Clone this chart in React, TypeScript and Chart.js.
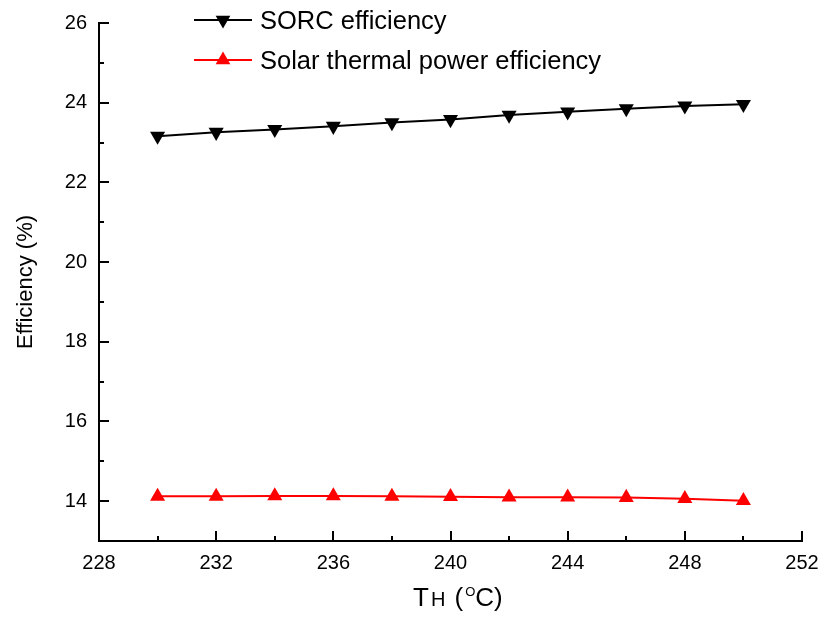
import React, { useEffect, useRef } from "react";
import { Chart, registerables } from "chart.js";

Chart.register(...registerables);

// ---- Data ----
const temperatures = [230, 232, 234, 236, 238, 240, 242, 244, 246, 248, 250];
const sorcEfficiency = [23.16, 23.26, 23.33, 23.41, 23.5, 23.58, 23.69, 23.77, 23.85, 23.92, 23.96];
const solarEfficiency = [14.12, 14.12, 14.13, 14.13, 14.12, 14.11, 14.1, 14.1, 14.09, 14.06, 14.01];
const seriesLabels = ["SORC efficiency", "Solar thermal power efficiency"];
const xTickValues = [228, 232, 236, 240, 244, 248, 252];
const xMinorValues = [230, 234, 238, 242, 246, 250];
const yTickValues = [14, 16, 18, 20, 22, 24, 26];
const yMinorValues = [13, 15, 17, 19, 21, 23, 25];
const yTitle = "Efficiency (%)";

const FONT = '"Liberation Sans", Arial, Helvetica, sans-serif';

function triangle(ctx: CanvasRenderingContext2D, x: number, y: number, r: number, rotDeg: number, color: string) {
  let rad = (rotDeg * Math.PI) / 180;
  const step = (2 * Math.PI) / 3;
  ctx.beginPath();
  ctx.moveTo(x + Math.sin(rad) * r, y - Math.cos(rad) * r);
  rad += step;
  ctx.lineTo(x + Math.sin(rad) * r, y - Math.cos(rad) * r);
  rad += step;
  ctx.lineTo(x + Math.sin(rad) * r, y - Math.cos(rad) * r);
  ctx.closePath();
  ctx.fillStyle = color;
  ctx.fill();
}

const decor = {
  id: "decor",
  afterDraw(chart: any) {
    const ctx: CanvasRenderingContext2D = chart.ctx;
    const xs = chart.scales.x;
    const ys = chart.scales.y;
    const a = chart.chartArea;
    ctx.save();
    ctx.strokeStyle = "#000";
    ctx.lineWidth = 2;
    const seg = (x1: number, y1: number, x2: number, y2: number) => {
      ctx.beginPath();
      ctx.moveTo(x1, y1);
      ctx.lineTo(x2, y2);
      ctx.stroke();
    };
    // inward ticks
    xTickValues.forEach((v) => {
      const p = Math.round(xs.getPixelForValue(v));
      seg(p, a.bottom, p, a.bottom - 10);
    });
    xMinorValues.forEach((v) => {
      const p = Math.round(xs.getPixelForValue(v));
      seg(p, a.bottom, p, a.bottom - 5);
    });
    yTickValues.forEach((v) => {
      const p = Math.round(ys.getPixelForValue(v));
      seg(a.left, p, a.left + 10, p);
    });
    yMinorValues.forEach((v) => {
      const p = Math.round(ys.getPixelForValue(v));
      seg(a.left, p, a.left + 5, p);
    });

    // legend
    const rows = [
      { y: 20, ds: chart.data.datasets[0] },
      { y: 60, ds: chart.data.datasets[1] },
    ];
    rows.forEach((r, i) => {
      ctx.strokeStyle = r.ds.borderColor;
      ctx.lineWidth = 2;
      seg(194, r.y, 252, r.y);
      triangle(ctx, 223, r.y, 8.5, r.ds.pointRotation, r.ds.pointBackgroundColor);
      ctx.fillStyle = "#000";
      ctx.font = `25.5px ${FONT}`;
      ctx.textBaseline = "alphabetic";
      ctx.textAlign = "left";
      ctx.fillText(seriesLabels[i], 260, r.y + 9);
    });

    // y title
    ctx.save();
    ctx.translate(32, (a.top + a.bottom) / 2);
    ctx.rotate(-Math.PI / 2);
    ctx.font = `22px ${FONT}`;
    ctx.textAlign = "center";
    ctx.textBaseline = "alphabetic";
    ctx.fillStyle = "#000";
    ctx.fillText(yTitle, 0, 0);
    ctx.restore();

    // x title: T_H (^O C)
    ctx.fillStyle = "#000";
    ctx.textAlign = "left";
    ctx.textBaseline = "alphabetic";
    const base = 606;
    let x = 413;
    const piece = (t: string, size: number, dy: number, gap = 0) => {
      ctx.font = `${size}px ${FONT}`;
      x += gap;
      ctx.fillText(t, x, base + dy);
      x += ctx.measureText(t).width;
    };
    piece("T", 26, 0);
    piece("H", 20, 0, 2);
    piece(" (", 26, 0, 2);
    piece("O", 13, -10, 2);
    piece("C)", 26, 0, 0);
    ctx.restore();
  },
};

export default function App() {
  const ref = useRef<HTMLCanvasElement | null>(null);
  useEffect(() => {
    document.body.style.margin = "0";
    const canvas = ref.current!;
    const chart = new Chart(canvas, {
      type: "line",
      data: {
        datasets: [
          {
            label: seriesLabels[0],
            data: temperatures.map((t, i) => ({ x: t, y: sorcEfficiency[i] })),
            borderColor: "#000000",
            backgroundColor: "#000000",
            pointBackgroundColor: "#000000",
            pointBorderColor: "#000000",
            borderWidth: 2,
            pointStyle: "triangle",
            pointRotation: 180,
            pointRadius: 8.7,
            pointBorderWidth: 0,
            tension: 0,
          },
          {
            label: seriesLabels[1],
            data: temperatures.map((t, i) => ({ x: t, y: solarEfficiency[i] })),
            borderColor: "#ff0000",
            backgroundColor: "#ff0000",
            pointBackgroundColor: "#ff0000",
            pointBorderColor: "#ff0000",
            borderWidth: 2,
            pointStyle: "triangle",
            pointRotation: 0,
            pointRadius: 8.7,
            pointBorderWidth: 0,
            tension: 0,
          },
        ] as any,
      },
      options: {
        responsive: false,
        animation: false,
        layout: { padding: { top: 23, right: 17, left: 0, bottom: 0 } },
        plugins: { legend: { display: false }, tooltip: { enabled: false } },
        scales: {
          x: {
            type: "linear",
            min: 228,
            max: 252,
            grid: { display: false, drawTicks: false },
            border: { display: true, color: "#000", width: 2 },
            ticks: {
              autoSkip: false,
              maxRotation: 0,
              padding: 10,
              color: "#000",
              font: { family: FONT, size: 20 },
            },
            afterBuildTicks: (s: any) => {
              s.ticks = xTickValues.map((v) => ({ value: v }));
            },
            afterFit: (s: any) => {
              s.height = 80;
              s.paddingLeft = 0;
              s.paddingRight = 0;
            },
          },
          y: {
            type: "linear",
            min: 13,
            max: 26,
            grid: { display: false, drawTicks: false },
            border: { display: true, color: "#000", width: 2 },
            ticks: {
              autoSkip: false,
              padding: 12,
              color: "#000",
              font: { family: FONT, size: 20 },
            },
            afterBuildTicks: (s: any) => {
              s.ticks = yTickValues.map((v) => ({ value: v }));
            },
            afterFit: (s: any) => {
              s.width = 99;
              s.paddingTop = 0;
              s.paddingBottom = 0;
            },
          },
        },
      },
      plugins: [decor],
    });
    return () => chart.destroy();
  }, []);
  return (
    <div style={{ position: "absolute", left: 0, top: 0, width: 819, height: 621, background: "#fff" }}>
      <canvas ref={ref} width={819} height={621} />
    </div>
  );
}
